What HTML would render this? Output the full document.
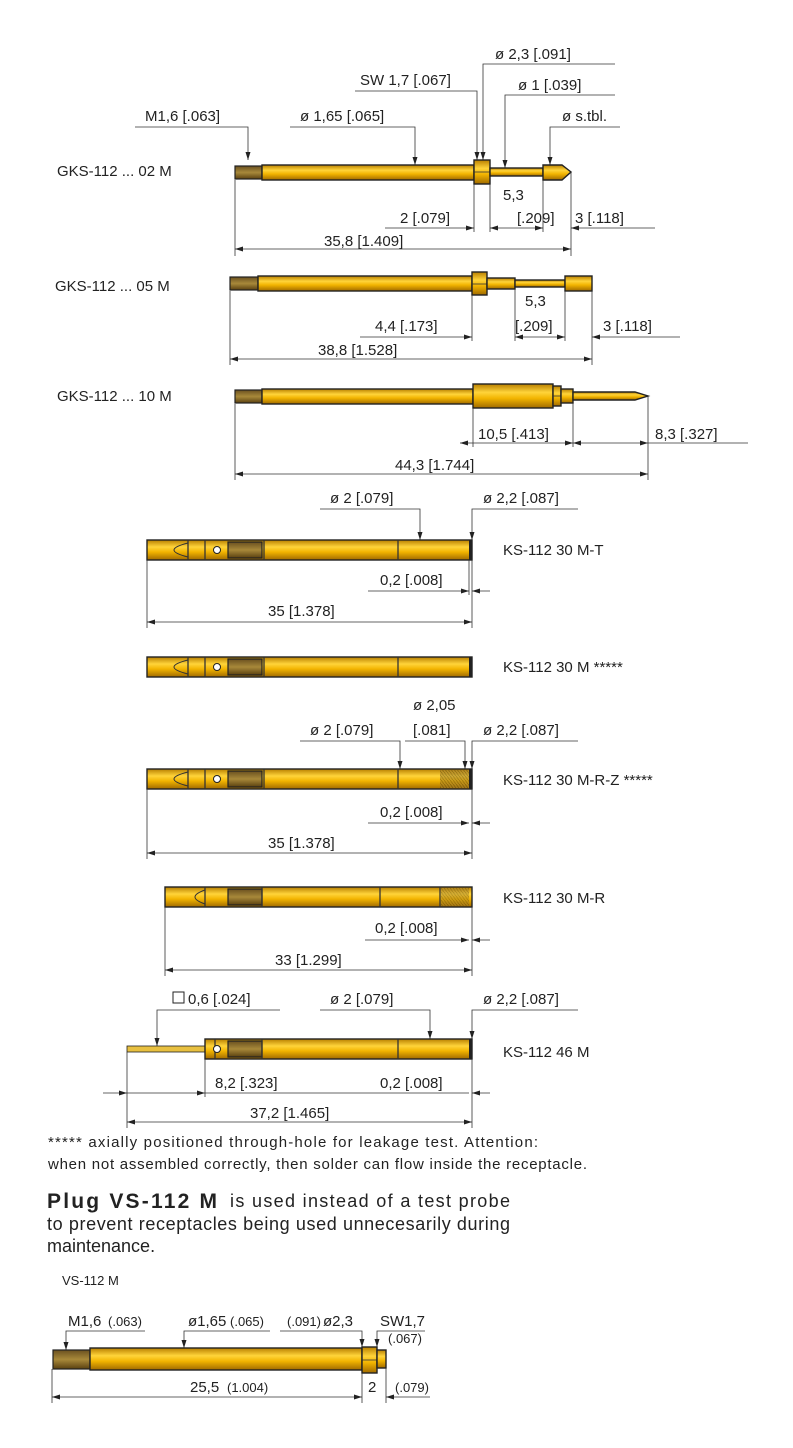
<!DOCTYPE html>
<html><head><meta charset="utf-8"><style>
html,body{margin:0;padding:0;background:#fff}
svg{display:block}
text{font-family:"Liberation Sans",sans-serif;fill:#222}
.d{font-size:15px}
.s{font-size:13px}
.p{fill:url(#g);stroke:#222;stroke-width:1.4}
.t{fill:url(#th);stroke:#222;stroke-width:1.2}
.l{stroke:#333;stroke-width:0.8;fill:none}
</style></head><body>
<svg width="793" height="1448" viewBox="0 0 793 1448" xmlns="http://www.w3.org/2000/svg">
<defs>
<linearGradient id="g" x1="0" y1="0" x2="0" y2="1">
<stop offset="0" stop-color="#b87f00"/><stop offset="0.35" stop-color="#ffd43a"/><stop offset="0.6" stop-color="#f2b400"/><stop offset="1" stop-color="#a06a00"/></linearGradient>
<pattern id="thp" width="3" height="4" patternUnits="userSpaceOnUse"><rect width="3" height="4" fill="#9a7a30"/><path d="M0 0 L3 4" stroke="#4a3a10" stroke-width="0.8"/></pattern>
<linearGradient id="th" x1="0" y1="0" x2="0" y2="1"><stop offset="0" stop-color="#6a5020"/><stop offset="0.5" stop-color="#a8893a"/><stop offset="1" stop-color="#5a4010"/></linearGradient>
<marker id="a" markerWidth="8" markerHeight="6" refX="8" refY="3" orient="auto-start-reverse" markerUnits="userSpaceOnUse"><path d="M0 0.5 L8 3 L0 5.5z" fill="#222"/></marker>
</defs>

<!-- GKS 02 -->
<text class="d" x="57" y="176">GKS-112 ... 02 M</text>
<rect class="t" x="235" y="166" width="27" height="13"/>
<rect class="p" x="262" y="165" width="212" height="15"/>
<rect class="p" x="474" y="160" width="16" height="24"/><line class="l" x1="474" y1="172" x2="490" y2="172"/>
<rect class="p" x="490" y="168" width="53" height="8"/>
<path class="p" d="M543 165 L562 165 L571 172 L562 180 L543 180z"/>
<path class="l" d="M135 127 H248 V160" marker-end="url(#a)"/><text class="d" x="145" y="121">M1,6 [.063]</text>
<path class="l" d="M290 127 H415 V165" marker-end="url(#a)"/><text class="d" x="300" y="121">ø 1,65 [.065]</text>
<path class="l" d="M355 91 H477 V160" marker-end="url(#a)"/><text class="d" x="360" y="85">SW 1,7 [.067]</text>
<path class="l" d="M615 64 H483 V160" marker-end="url(#a)"/><text class="d" x="495" y="59">ø 2,3 [.091]</text>
<path class="l" d="M615 95 H505 V168" marker-end="url(#a)"/><text class="d" x="518" y="90">ø 1 [.039]</text>
<path class="l" d="M620 127 H550 V165" marker-end="url(#a)"/><text class="d" x="562" y="121">ø s.tbl.</text>
<text class="d" x="503" y="200">5,3</text>
<text class="d" x="400" y="223">2 [.079]</text><text class="d" x="517" y="223">[.209]</text><text class="d" x="575" y="223">3 [.118]</text>
<line class="l" x1="385" y1="228" x2="474" y2="228" marker-end="url(#a)"/><line class="l" x1="490" y1="228" x2="543" y2="228" marker-start="url(#a)" marker-end="url(#a)"/><line class="l" x1="571" y1="228" x2="655" y2="228" marker-start="url(#a)"/>
<line class="l" x1="235" y1="249" x2="571" y2="249" marker-start="url(#a)" marker-end="url(#a)"/>
<text class="d" x="324" y="246">35,8 [1.409]</text>
<path class="l" d="M235 180 V256 M474 184 V232 M490 184 V232 M543 180 V232 M571 172 V256"/>

<!-- GKS 05 -->
<text class="d" x="55" y="291">GKS-112 ... 05 M</text>
<rect class="t" x="230" y="277" width="28" height="13"/>
<rect class="p" x="258" y="276" width="214" height="15"/>
<rect class="p" x="472" y="272" width="15" height="23"/><line class="l" x1="472" y1="284" x2="487" y2="284"/>
<rect class="p" x="487" y="278" width="28" height="11"/>
<rect class="p" x="515" y="280" width="50" height="7"/>
<rect class="p" x="565" y="276" width="27" height="15"/>
<text class="d" x="525" y="306">5,3</text>
<text class="d" x="375" y="331">4,4 [.173]</text><text class="d" x="515" y="331">[.209]</text><text class="d" x="603" y="331">3 [.118]</text>
<line class="l" x1="360" y1="337" x2="472" y2="337" marker-end="url(#a)"/><line class="l" x1="515" y1="337" x2="565" y2="337" marker-start="url(#a)" marker-end="url(#a)"/><line class="l" x1="592" y1="337" x2="680" y2="337" marker-start="url(#a)"/>
<line class="l" x1="230" y1="359" x2="592" y2="359" marker-start="url(#a)" marker-end="url(#a)"/>
<text class="d" x="318" y="355">38,8 [1.528]</text>
<path class="l" d="M230 291 V365 M472 295 V341 M515 289 V341 M565 291 V341 M592 291 V365"/>

<!-- GKS 10 -->
<text class="d" x="57" y="401">GKS-112 ... 10 M</text>
<rect class="t" x="235" y="390" width="27" height="13"/>
<rect class="p" x="262" y="389" width="211" height="15"/>
<rect class="p" x="473" y="384" width="80" height="24"/>
<rect class="p" x="553" y="386" width="8" height="20"/><line class="l" x1="553" y1="396" x2="561" y2="396"/>
<rect class="p" x="561" y="389" width="12" height="14"/>
<path class="p" d="M573 392 L635 392 L648 396 L635 400 L573 400z"/>
<text class="d" x="478" y="439">10,5 [.413]</text><text class="d" x="655" y="439">8,3 [.327]</text>
<line class="l" x1="460" y1="443" x2="573" y2="443" marker-start="url(#a)" marker-end="url(#a)"/><line class="l" x1="573" y1="443" x2="648" y2="443" marker-start="url(#a)" marker-end="url(#a)"/><line class="l" x1="648" y1="443" x2="748" y2="443"/>
<line class="l" x1="235" y1="474" x2="648" y2="474" marker-start="url(#a)" marker-end="url(#a)"/>
<text class="d" x="395" y="470">44,3 [1.744]</text>
<path class="l" d="M235 404 V480 M473 408 V447 M573 403 V447 M648 396 V480"/>

<!-- KS generic body -->
<g id="ks">
<rect class="p" x="147" y="540" width="325" height="20"/>
<rect class="t" x="228" y="542" width="34" height="16"/>
<path class="l" d="M188 540 V560 M205 540 V560 M264 540 V560 M398 540 V560" style="stroke-width:1.3"/>
<path d="M188 543 Q160 550 188 557" fill="none" stroke="#333" stroke-width="1"/>
<circle cx="217" cy="550" r="3.5" fill="#fff" stroke="#222"/>
<rect x="469" y="540" width="3" height="20" fill="#222"/>
</g>
<path class="l" d="M320 509 H420 V540" marker-end="url(#a)"/><text class="d" x="330" y="503">ø 2 [.079]</text>
<path class="l" d="M578 509 H472 V540" marker-end="url(#a)"/><text class="d" x="483" y="503">ø 2,2 [.087]</text>
<text class="d" x="503" y="555">KS-112 30 M-T</text>
<text class="d" x="380" y="585">0,2 [.008]</text>
<line class="l" x1="368" y1="591" x2="469" y2="591" marker-end="url(#a)"/><line class="l" x1="472" y1="591" x2="490" y2="591" marker-start="url(#a)"/>
<text class="d" x="268" y="616">35 [1.378]</text>
<line class="l" x1="147" y1="622" x2="472" y2="622" marker-start="url(#a)" marker-end="url(#a)"/>
<path class="l" d="M147 560 V628 M472 560 V628 M469 560 V595"/>

<use href="#ks" y="117"/>
<text class="d" x="503" y="672">KS-112 30 M *****</text>

<use href="#ks" y="229"/>
<rect x="440" y="770" width="29" height="18" fill="url(#thp)" opacity="0.5"/>
<text class="d" x="413" y="710">ø 2,05</text>
<path class="l" d="M300 741 H400 V769" marker-end="url(#a)"/><text class="d" x="310" y="735">ø 2 [.079]</text>
<path class="l" d="M405 741 H465 V769" marker-end="url(#a)"/><text class="d" x="413" y="735">[.081]</text>
<path class="l" d="M578 741 H472 V769" marker-end="url(#a)"/><text class="d" x="483" y="735">ø 2,2 [.087]</text>
<text class="d" x="503" y="785">KS-112 30 M-R-Z *****</text>
<text class="d" x="380" y="817">0,2 [.008]</text>
<line class="l" x1="368" y1="823" x2="469" y2="823" marker-end="url(#a)"/><line class="l" x1="472" y1="823" x2="490" y2="823" marker-start="url(#a)"/>
<text class="d" x="268" y="848">35 [1.378]</text>
<line class="l" x1="147" y1="853" x2="472" y2="853" marker-start="url(#a)" marker-end="url(#a)"/>
<path class="l" d="M147 789 V859 M472 789 V859"/>

<!-- M-R -->
<rect class="p" x="165" y="887" width="307" height="20"/>
<rect class="t" x="228" y="889" width="34" height="16"/>
<path class="l" d="M205 887 V907 M262 887 V907 M380 887 V907 M440 887 V907" style="stroke-width:1.3"/>
<path d="M205 890 Q185 897 205 904" fill="none" stroke="#333" stroke-width="1"/>
<rect x="441" y="888" width="28" height="18" fill="url(#thp)" opacity="0.4"/>
<text class="d" x="503" y="903">KS-112 30 M-R</text>
<text class="d" x="375" y="933">0,2 [.008]</text>
<line class="l" x1="365" y1="940" x2="469" y2="940" marker-end="url(#a)"/><line class="l" x1="472" y1="940" x2="490" y2="940" marker-start="url(#a)"/>
<text class="d" x="275" y="965">33 [1.299]</text>
<line class="l" x1="165" y1="970" x2="472" y2="970" marker-start="url(#a)" marker-end="url(#a)"/>
<path class="l" d="M165 907 V976 M472 907 V976"/>

<!-- KS 46 -->
<rect x="127" y="1046" width="78" height="6" fill="#e8c040" stroke="#222" stroke-width="0.8"/>
<rect class="p" x="205" y="1039" width="267" height="20"/>
<rect class="t" x="228" y="1041" width="34" height="16"/>
<path class="l" d="M215 1039 V1059 M262 1039 V1059 M398 1039 V1059" style="stroke-width:1.3"/>
<circle cx="217" cy="1049" r="3.5" fill="#fff" stroke="#222"/>
<rect x="469" y="1039" width="3" height="20" fill="#222"/>
<path class="l" d="M280 1010 H157 V1046" marker-end="url(#a)"/><text class="d" x="188" y="1004">0,6 [.024]</text><rect x="173" y="992" width="11" height="11" fill="none" stroke="#222"/>
<path class="l" d="M320 1010 H430 V1039" marker-end="url(#a)"/><text class="d" x="330" y="1004">ø 2 [.079]</text>
<path class="l" d="M578 1010 H472 V1039" marker-end="url(#a)"/><text class="d" x="483" y="1004">ø 2,2 [.087]</text>
<text class="d" x="503" y="1057">KS-112 46 M</text>
<text class="d" x="215" y="1088">8,2 [.323]</text><text class="d" x="380" y="1088">0,2 [.008]</text>
<line class="l" x1="103" y1="1093" x2="127" y2="1093" marker-end="url(#a)"/><line class="l" x1="127" y1="1093" x2="205" y2="1093" marker-end="url(#a)"/><line class="l" x1="205" y1="1093" x2="469" y2="1093"/><line class="l" x1="472" y1="1093" x2="490" y2="1093" marker-start="url(#a)"/>
<text class="d" x="250" y="1118">37,2 [1.465]</text>
<line class="l" x1="127" y1="1122" x2="472" y2="1122" marker-start="url(#a)" marker-end="url(#a)"/>
<path class="l" d="M127 1052 V1128 M205 1059 V1097 M472 1059 V1128"/>

<text x="48" y="1147" style="font-size:15px" textLength="490" lengthAdjust="spacing">***** axially positioned through-hole for leakage test. Attention:</text>
<text x="48" y="1169" style="font-size:15px" textLength="539" lengthAdjust="spacing">when not assembled correctly, then solder can flow inside the receptacle.</text>
<text x="47" y="1208" style="font-size:21px;font-weight:bold" textLength="170" lengthAdjust="spacing">Plug VS-112 M</text>
<text x="230" y="1207" style="font-size:18px" textLength="280" lengthAdjust="spacing">is used instead of a test probe</text>
<text x="47" y="1230" style="font-size:18px" textLength="463" lengthAdjust="spacing">to prevent receptacles being used unnecesarily during</text>
<text x="47" y="1252" style="font-size:18px">maintenance.</text>

<text class="s" x="62" y="1285">VS-112 M</text>
<rect class="t" x="53" y="1350" width="37" height="19"/>
<rect class="p" x="90" y="1348" width="272" height="22"/>
<rect class="p" x="362" y="1347" width="15" height="26"/><line class="l" x1="362" y1="1360" x2="377" y2="1360"/>
<rect class="p" x="377" y="1350" width="9" height="18"/>
<path class="l" d="M145 1331 H66 V1350" marker-end="url(#a)"/><text class="d" x="68" y="1326">M1,6</text><text class="s" x="108" y="1326">(.063)</text>
<path class="l" d="M270 1331 H184 V1348" marker-end="url(#a)"/><text class="d" x="188" y="1326">ø1,65</text><text class="s" x="230" y="1326">(.065)</text>
<path class="l" d="M280 1331 H362 V1347" marker-end="url(#a)"/><text class="s" x="287" y="1326">(.091)</text><text class="d" x="323" y="1326">ø2,3</text>
<path class="l" d="M425 1331 H377 V1347" marker-end="url(#a)"/><text class="d" x="380" y="1326">SW1,7</text><text class="s" x="388" y="1343">(.067)</text>
<text class="d" x="190" y="1392">25,5</text><text class="s" x="227" y="1392">(1.004)</text>
<text class="d" x="368" y="1392">2</text><text class="s" x="395" y="1392">(.079)</text>
<line class="l" x1="52" y1="1397" x2="362" y2="1397" marker-start="url(#a)" marker-end="url(#a)"/><line class="l" x1="386" y1="1397" x2="430" y2="1397" marker-start="url(#a)"/>
<path class="l" d="M52 1369 V1403 M362 1373 V1403 M386 1368 V1403"/>
</svg>
</body></html>
